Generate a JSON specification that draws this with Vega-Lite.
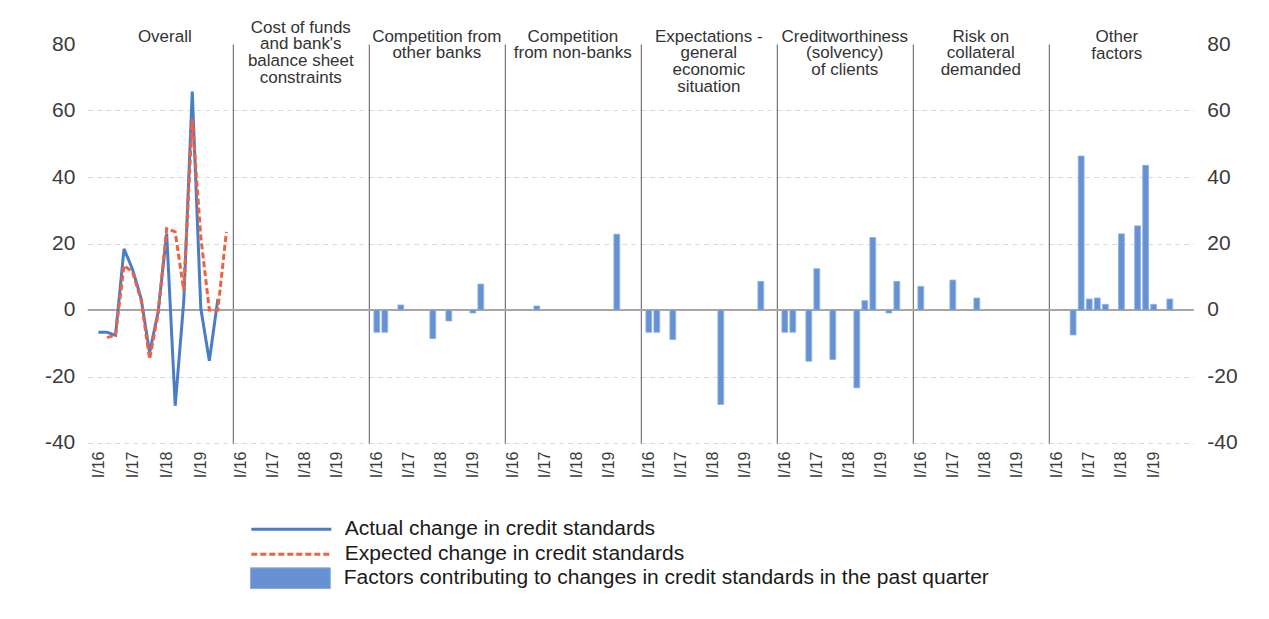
{
  "$schema": "https://vega.github.io/schema/vega-lite/v6.json",
  "background": "white",
  "padding": {"left": 43.8, "top": 18, "right": 5, "bottom": 5},
  "autosize": {"type": "pad"},
  "config": {
    "view": {"stroke": null},
    "font": "Liberation Sans",
    "title": {"fontSize": 17, "font": "Liberation Sans", "fontWeight": "normal", "color": "#333333", "anchor": "middle", "frame": "group", "baseline": "alphabetic", "lineHeight": 17},
    "axisX": {"labelFont": "Liberation Sans", "labelFontSize": 16, "labelAngle": 270, "labelPadding": 8, "labelColor": "#3b3b3b", "ticks": false, "domain": false, "grid": false, "title": null}
  },
  "datasets": {
    "zero": [{"level": 0}],
    "lines": [
      {"series": "Actual change in credit standards", "quarter": "I/16", "value": -6.7},
      {"series": "Actual change in credit standards", "quarter": "II/16", "value": -6.7},
      {"series": "Actual change in credit standards", "quarter": "III/16", "value": -7.6},
      {"series": "Actual change in credit standards", "quarter": "IV/16", "value": 18.4},
      {"series": "Actual change in credit standards", "quarter": "I/17", "value": 12.2},
      {"series": "Actual change in credit standards", "quarter": "II/17", "value": 3.5},
      {"series": "Actual change in credit standards", "quarter": "III/17", "value": -12.8},
      {"series": "Actual change in credit standards", "quarter": "IV/17", "value": -0.5},
      {"series": "Actual change in credit standards", "quarter": "I/18", "value": 23.0},
      {"series": "Actual change in credit standards", "quarter": "II/18", "value": -28.8},
      {"series": "Actual change in credit standards", "quarter": "III/18", "value": 2.5},
      {"series": "Actual change in credit standards", "quarter": "IV/18", "value": 65.7},
      {"series": "Actual change in credit standards", "quarter": "I/19", "value": 0.5},
      {"series": "Actual change in credit standards", "quarter": "II/19", "value": -15.3},
      {"series": "Actual change in credit standards", "quarter": "III/19", "value": 3.3},
      {"series": "Expected change in credit standards", "quarter": "II/16", "value": -8.3},
      {"series": "Expected change in credit standards", "quarter": "III/16", "value": -7.5},
      {"series": "Expected change in credit standards", "quarter": "IV/16", "value": 13.4},
      {"series": "Expected change in credit standards", "quarter": "I/17", "value": 11.4},
      {"series": "Expected change in credit standards", "quarter": "II/17", "value": 3.0},
      {"series": "Expected change in credit standards", "quarter": "III/17", "value": -14.8},
      {"series": "Expected change in credit standards", "quarter": "IV/17", "value": -1.0},
      {"series": "Expected change in credit standards", "quarter": "I/18", "value": 24.5},
      {"series": "Expected change in credit standards", "quarter": "II/18", "value": 23.5},
      {"series": "Expected change in credit standards", "quarter": "III/18", "value": 5.9},
      {"series": "Expected change in credit standards", "quarter": "IV/18", "value": 57.4},
      {"series": "Expected change in credit standards", "quarter": "I/19", "value": 22.0},
      {"series": "Expected change in credit standards", "quarter": "II/19", "value": 0.0},
      {"series": "Expected change in credit standards", "quarter": "III/19", "value": 0.0},
      {"series": "Expected change in credit standards", "quarter": "IV/19", "value": 23.5}
    ],
    "bars": [
      {"factor": "Competition from other banks", "quarter": "I/16", "value": -6.7},
      {"factor": "Competition from other banks", "quarter": "II/16", "value": -6.7},
      {"factor": "Competition from other banks", "quarter": "IV/16", "value": 1.5},
      {"factor": "Competition from other banks", "quarter": "IV/17", "value": -8.6},
      {"factor": "Competition from other banks", "quarter": "II/18", "value": -3.3},
      {"factor": "Competition from other banks", "quarter": "I/19", "value": -0.9},
      {"factor": "Competition from other banks", "quarter": "II/19", "value": 7.8},
      {"factor": "Competition from non-banks", "quarter": "IV/16", "value": 1.2},
      {"factor": "Competition from non-banks", "quarter": "II/19", "value": 22.8},
      {"factor": "Expectations - general economic situation", "quarter": "I/16", "value": -6.7},
      {"factor": "Expectations - general economic situation", "quarter": "II/16", "value": -6.7},
      {"factor": "Expectations - general economic situation", "quarter": "IV/16", "value": -8.9},
      {"factor": "Expectations - general economic situation", "quarter": "II/18", "value": -28.4},
      {"factor": "Expectations - general economic situation", "quarter": "III/19", "value": 8.6},
      {"factor": "Creditworthiness (solvency) of clients", "quarter": "I/16", "value": -6.7},
      {"factor": "Creditworthiness (solvency) of clients", "quarter": "II/16", "value": -6.7},
      {"factor": "Creditworthiness (solvency) of clients", "quarter": "IV/16", "value": -15.4},
      {"factor": "Creditworthiness (solvency) of clients", "quarter": "I/17", "value": 12.4},
      {"factor": "Creditworthiness (solvency) of clients", "quarter": "III/17", "value": -14.9},
      {"factor": "Creditworthiness (solvency) of clients", "quarter": "II/18", "value": -23.4},
      {"factor": "Creditworthiness (solvency) of clients", "quarter": "III/18", "value": 2.8},
      {"factor": "Creditworthiness (solvency) of clients", "quarter": "IV/18", "value": 21.8},
      {"factor": "Creditworthiness (solvency) of clients", "quarter": "II/19", "value": -0.9},
      {"factor": "Creditworthiness (solvency) of clients", "quarter": "III/19", "value": 8.6},
      {"factor": "Risk on collateral demanded", "quarter": "I/16", "value": 7.1},
      {"factor": "Risk on collateral demanded", "quarter": "I/17", "value": 9.0},
      {"factor": "Risk on collateral demanded", "quarter": "IV/17", "value": 3.6},
      {"factor": "Other factors", "quarter": "III/16", "value": -7.5},
      {"factor": "Other factors", "quarter": "IV/16", "value": 46.3},
      {"factor": "Other factors", "quarter": "I/17", "value": 3.3},
      {"factor": "Other factors", "quarter": "II/17", "value": 3.6},
      {"factor": "Other factors", "quarter": "III/17", "value": 1.7},
      {"factor": "Other factors", "quarter": "I/18", "value": 22.9},
      {"factor": "Other factors", "quarter": "III/18", "value": 25.3},
      {"factor": "Other factors", "quarter": "IV/18", "value": 43.5},
      {"factor": "Other factors", "quarter": "I/19", "value": 1.7},
      {"factor": "Other factors", "quarter": "III/19", "value": 3.3}
    ]
  },
  "hconcat": [
    {
      "width": 145, "height": 399,
      "title": {"text": "Overall", "offset": -13, "dx": 4.5},
      "layer": [
        {"data": {"name": "zero"}, "mark": {"type": "rule", "color": "#a6a6a6", "strokeWidth": 2},
         "encoding": {"y": {"field": "level", "type": "quantitative", "scale": {"domain": [-40, 80], "nice": false, "zero": false},
           "axis": {"orient": "left", "values": [-40, -20, 0, 20, 40, 60, 80], "labelExpr": "replace(datum.label, '−', '-')", "title": null, "domain": false, "ticks": false, "labelFontSize": 21, "labelFont": "Liberation Sans", "labelColor": "#3b3b3b", "labelPadding": 13, "grid": true, "gridColor": {"condition": {"test": "datum.value === 80 || datum.value === 0", "value": "rgba(0,0,0,0)"}, "value": "#d9d9d9"}, "gridDash": [5, 4], "gridWidth": 1}}}},
        {"data": {"name": "lines"},
         "mark": {"type": "line", "strokeWidth": 3},
         "encoding": {
           "x": {"field": "quarter", "type": "ordinal", "scale": {"type": "point", "domain": ["I/16","II/16","III/16","IV/16","I/17","II/17","III/17","IV/17","I/18","II/18","III/18","IV/18","I/19","II/19","III/19","IV/19"], "padding": 1.5625, "align": 0.624}, "axis": {"values": ["I/16", "I/17", "I/18", "I/19"]}},
           "y": {"field": "value", "type": "quantitative"},
           "color": {"field": "series", "type": "nominal",
             "scale": {"domain": ["Actual change in credit standards", "Expected change in credit standards"], "range": ["#4A7EC4", "#EE6241"]},
             "legend": {"orient": "none", "legendX": 162, "legendY": 474, "direction": "vertical", "title": null, "padding": 0,
               "symbolType": "stroke", "symbolSize": 6400, "symbolStrokeWidth": 3, "clipHeight": 22.5, "rowPadding": 2, "labelOffset": 12,
               "labelFontSize": 21, "labelFont": "Liberation Sans", "labelColor": "#1a1a1a", "labelLimit": 900}},
           "strokeDash": {"field": "series", "type": "nominal",
             "scale": {"domain": ["Actual change in credit standards", "Expected change in credit standards"], "range": [[1, 0], [6, 3]]},
             "legend": {"orient": "none", "legendX": 162, "legendY": 474, "direction": "vertical", "title": null, "padding": 0,
               "symbolType": "stroke", "symbolSize": 6400, "symbolStrokeWidth": 3, "clipHeight": 22.5, "rowPadding": 2, "labelOffset": 12,
               "labelFontSize": 21, "labelFont": "Liberation Sans", "labelColor": "#1a1a1a", "labelLimit": 900}}
         }}
      ]
    },
    {
      "width": 136, "height": 399,
      "title": {"text": ["Cost of funds", "and bank's", "balance sheet", "constraints"], "offset": -43.5},
      "layer": [
        {"data": {"name": "zero"}, "mark": {"type": "rule", "color": "#a6a6a6", "strokeWidth": 2},
         "encoding": {"y": {"field": "level", "type": "quantitative", "scale": {"domain": [-40, 80], "nice": false, "zero": false},
           "axis": {"orient": "left", "values": [-40, -20, 0, 20, 40, 60, 80], "title": null, "domain": true, "domainColor": "#595959", "domainWidth": 1, "ticks": false, "labels": false, "grid": true, "gridColor": {"condition": {"test": "datum.value === 80 || datum.value === 0", "value": "rgba(0,0,0,0)"}, "value": "#d9d9d9"}, "gridDash": [5, 4], "gridWidth": 1}}}},
        {"data": {"name": "bars"}, "transform": [{"filter": "datum.factor === \"Cost of funds and bank's balance sheet constraints\""}],
         "mark": {"type": "bar", "width": {"band": 0.72}, "stroke": "#8CAEDF", "strokeWidth": 0.8},
         "encoding": {
           "x": {"field": "quarter", "type": "ordinal", "scale": {"type": "band", "domain": ["I/16","II/16","III/16","IV/16","I/17","II/17","III/17","IV/17","I/18","II/18","III/18","IV/18","I/19","II/19","III/19","IV/19"], "paddingInner": 0, "paddingOuter": 0.5}, "axis": {"values": ["I/16", "I/17", "I/18", "I/19"]}},
           "y": {"field": "value", "type": "quantitative"},
           "fill": {"datum": "Factors contributing to changes in credit standards in the past quarter", "type": "nominal",
             "scale": {"domain": ["Factors contributing to changes in credit standards in the past quarter"], "range": ["#6692D3"]},
             "legend": {"orient": "none", "legendX": 162, "legendY": 523, "direction": "vertical", "title": null, "padding": 0,
               "symbolType": "M-1,-0.26H1V0.26H-1Z", "symbolSize": 6400, "symbolStrokeWidth": 1, "symbolStrokeColor": "#8CAEDF", "clipHeight": 22.5, "labelOffset": 13,
               "labelFontSize": 21, "labelFont": "Liberation Sans", "labelColor": "#1a1a1a", "labelLimit": 900}}
         }}
      ]
    },
    {
      "width": 136, "height": 399,
      "title": {"text": ["Competition from", "other banks"], "offset": -18.5},
      "layer": [
        {"data": {"name": "zero"}, "mark": {"type": "rule", "color": "#a6a6a6", "strokeWidth": 2},
         "encoding": {"y": {"field": "level", "type": "quantitative", "scale": {"domain": [-40, 80], "nice": false, "zero": false},
           "axis": {"orient": "left", "values": [-40, -20, 0, 20, 40, 60, 80], "title": null, "domain": true, "domainColor": "#595959", "domainWidth": 1, "ticks": false, "labels": false, "grid": true, "gridColor": {"condition": {"test": "datum.value === 80 || datum.value === 0", "value": "rgba(0,0,0,0)"}, "value": "#d9d9d9"}, "gridDash": [5, 4], "gridWidth": 1}}}},
        {"data": {"name": "bars"}, "transform": [{"filter": "datum.factor === 'Competition from other banks'"}],
         "mark": {"type": "bar", "width": {"band": 0.72}, "stroke": "#8CAEDF", "strokeWidth": 0.8},
         "encoding": {
           "x": {"field": "quarter", "type": "ordinal", "scale": {"type": "band", "domain": ["I/16","II/16","III/16","IV/16","I/17","II/17","III/17","IV/17","I/18","II/18","III/18","IV/18","I/19","II/19","III/19","IV/19"], "paddingInner": 0, "paddingOuter": 0.5}, "axis": {"values": ["I/16", "I/17", "I/18", "I/19"]}},
           "y": {"field": "value", "type": "quantitative"},
           "fill": {"datum": "Factors contributing to changes in credit standards in the past quarter", "type": "nominal",
             "scale": {"domain": ["Factors contributing to changes in credit standards in the past quarter"], "range": ["#6692D3"]},
             "legend": {"orient": "none", "legendX": 162, "legendY": 523, "direction": "vertical", "title": null, "padding": 0,
               "symbolType": "M-1,-0.26H1V0.26H-1Z", "symbolSize": 6400, "symbolStrokeWidth": 1, "symbolStrokeColor": "#8CAEDF", "clipHeight": 22.5, "labelOffset": 13,
               "labelFontSize": 21, "labelFont": "Liberation Sans", "labelColor": "#1a1a1a", "labelLimit": 900}}
         }}
      ]
    },
    {
      "width": 136, "height": 399,
      "title": {"text": ["Competition", "from non-banks"], "offset": -18.5},
      "layer": [
        {"data": {"name": "zero"}, "mark": {"type": "rule", "color": "#a6a6a6", "strokeWidth": 2},
         "encoding": {"y": {"field": "level", "type": "quantitative", "scale": {"domain": [-40, 80], "nice": false, "zero": false},
           "axis": {"orient": "left", "values": [-40, -20, 0, 20, 40, 60, 80], "title": null, "domain": true, "domainColor": "#595959", "domainWidth": 1, "ticks": false, "labels": false, "grid": true, "gridColor": {"condition": {"test": "datum.value === 80 || datum.value === 0", "value": "rgba(0,0,0,0)"}, "value": "#d9d9d9"}, "gridDash": [5, 4], "gridWidth": 1}}}},
        {"data": {"name": "bars"}, "transform": [{"filter": "datum.factor === 'Competition from non-banks'"}],
         "mark": {"type": "bar", "width": {"band": 0.72}, "stroke": "#8CAEDF", "strokeWidth": 0.8},
         "encoding": {
           "x": {"field": "quarter", "type": "ordinal", "scale": {"type": "band", "domain": ["I/16","II/16","III/16","IV/16","I/17","II/17","III/17","IV/17","I/18","II/18","III/18","IV/18","I/19","II/19","III/19","IV/19"], "paddingInner": 0, "paddingOuter": 0.5}, "axis": {"values": ["I/16", "I/17", "I/18", "I/19"]}},
           "y": {"field": "value", "type": "quantitative"},
           "fill": {"datum": "Factors contributing to changes in credit standards in the past quarter", "type": "nominal",
             "scale": {"domain": ["Factors contributing to changes in credit standards in the past quarter"], "range": ["#6692D3"]},
             "legend": {"orient": "none", "legendX": 162, "legendY": 523, "direction": "vertical", "title": null, "padding": 0,
               "symbolType": "M-1,-0.26H1V0.26H-1Z", "symbolSize": 6400, "symbolStrokeWidth": 1, "symbolStrokeColor": "#8CAEDF", "clipHeight": 22.5, "labelOffset": 13,
               "labelFontSize": 21, "labelFont": "Liberation Sans", "labelColor": "#1a1a1a", "labelLimit": 900}}
         }}
      ]
    },
    {
      "width": 136, "height": 399,
      "title": {"text": ["Expectations -", "general", "economic", "situation"], "offset": -52.5},
      "layer": [
        {"data": {"name": "zero"}, "mark": {"type": "rule", "color": "#a6a6a6", "strokeWidth": 2},
         "encoding": {"y": {"field": "level", "type": "quantitative", "scale": {"domain": [-40, 80], "nice": false, "zero": false},
           "axis": {"orient": "left", "values": [-40, -20, 0, 20, 40, 60, 80], "title": null, "domain": true, "domainColor": "#595959", "domainWidth": 1, "ticks": false, "labels": false, "grid": true, "gridColor": {"condition": {"test": "datum.value === 80 || datum.value === 0", "value": "rgba(0,0,0,0)"}, "value": "#d9d9d9"}, "gridDash": [5, 4], "gridWidth": 1}}}},
        {"data": {"name": "bars"}, "transform": [{"filter": "datum.factor === 'Expectations - general economic situation'"}],
         "mark": {"type": "bar", "width": {"band": 0.72}, "stroke": "#8CAEDF", "strokeWidth": 0.8},
         "encoding": {
           "x": {"field": "quarter", "type": "ordinal", "scale": {"type": "band", "domain": ["I/16","II/16","III/16","IV/16","I/17","II/17","III/17","IV/17","I/18","II/18","III/18","IV/18","I/19","II/19","III/19","IV/19"], "paddingInner": 0, "paddingOuter": 0.5}, "axis": {"values": ["I/16", "I/17", "I/18", "I/19"]}},
           "y": {"field": "value", "type": "quantitative"},
           "fill": {"datum": "Factors contributing to changes in credit standards in the past quarter", "type": "nominal",
             "scale": {"domain": ["Factors contributing to changes in credit standards in the past quarter"], "range": ["#6692D3"]},
             "legend": {"orient": "none", "legendX": 162, "legendY": 523, "direction": "vertical", "title": null, "padding": 0,
               "symbolType": "M-1,-0.26H1V0.26H-1Z", "symbolSize": 6400, "symbolStrokeWidth": 1, "symbolStrokeColor": "#8CAEDF", "clipHeight": 22.5, "labelOffset": 13,
               "labelFontSize": 21, "labelFont": "Liberation Sans", "labelColor": "#1a1a1a", "labelLimit": 900}}
         }}
      ]
    },
    {
      "width": 136, "height": 399,
      "title": {"text": ["Creditworthiness", "(solvency)", "of clients"], "offset": -35.5},
      "layer": [
        {"data": {"name": "zero"}, "mark": {"type": "rule", "color": "#a6a6a6", "strokeWidth": 2},
         "encoding": {"y": {"field": "level", "type": "quantitative", "scale": {"domain": [-40, 80], "nice": false, "zero": false},
           "axis": {"orient": "left", "values": [-40, -20, 0, 20, 40, 60, 80], "title": null, "domain": true, "domainColor": "#595959", "domainWidth": 1, "ticks": false, "labels": false, "grid": true, "gridColor": {"condition": {"test": "datum.value === 80 || datum.value === 0", "value": "rgba(0,0,0,0)"}, "value": "#d9d9d9"}, "gridDash": [5, 4], "gridWidth": 1}}}},
        {"data": {"name": "bars"}, "transform": [{"filter": "datum.factor === 'Creditworthiness (solvency) of clients'"}],
         "mark": {"type": "bar", "width": {"band": 0.72}, "stroke": "#8CAEDF", "strokeWidth": 0.8},
         "encoding": {
           "x": {"field": "quarter", "type": "ordinal", "scale": {"type": "band", "domain": ["I/16","II/16","III/16","IV/16","I/17","II/17","III/17","IV/17","I/18","II/18","III/18","IV/18","I/19","II/19","III/19","IV/19"], "paddingInner": 0, "paddingOuter": 0.5}, "axis": {"values": ["I/16", "I/17", "I/18", "I/19"]}},
           "y": {"field": "value", "type": "quantitative"},
           "fill": {"datum": "Factors contributing to changes in credit standards in the past quarter", "type": "nominal",
             "scale": {"domain": ["Factors contributing to changes in credit standards in the past quarter"], "range": ["#6692D3"]},
             "legend": {"orient": "none", "legendX": 162, "legendY": 523, "direction": "vertical", "title": null, "padding": 0,
               "symbolType": "M-1,-0.26H1V0.26H-1Z", "symbolSize": 6400, "symbolStrokeWidth": 1, "symbolStrokeColor": "#8CAEDF", "clipHeight": 22.5, "labelOffset": 13,
               "labelFontSize": 21, "labelFont": "Liberation Sans", "labelColor": "#1a1a1a", "labelLimit": 900}}
         }}
      ]
    },
    {
      "width": 136, "height": 399,
      "title": {"text": ["Risk on", "collateral", "demanded"], "offset": -35.5},
      "layer": [
        {"data": {"name": "zero"}, "mark": {"type": "rule", "color": "#a6a6a6", "strokeWidth": 2},
         "encoding": {"y": {"field": "level", "type": "quantitative", "scale": {"domain": [-40, 80], "nice": false, "zero": false},
           "axis": {"orient": "left", "values": [-40, -20, 0, 20, 40, 60, 80], "title": null, "domain": true, "domainColor": "#595959", "domainWidth": 1, "ticks": false, "labels": false, "grid": true, "gridColor": {"condition": {"test": "datum.value === 80 || datum.value === 0", "value": "rgba(0,0,0,0)"}, "value": "#d9d9d9"}, "gridDash": [5, 4], "gridWidth": 1}}}},
        {"data": {"name": "bars"}, "transform": [{"filter": "datum.factor === 'Risk on collateral demanded'"}],
         "mark": {"type": "bar", "width": {"band": 0.72}, "stroke": "#8CAEDF", "strokeWidth": 0.8},
         "encoding": {
           "x": {"field": "quarter", "type": "ordinal", "scale": {"type": "band", "domain": ["I/16","II/16","III/16","IV/16","I/17","II/17","III/17","IV/17","I/18","II/18","III/18","IV/18","I/19","II/19","III/19","IV/19"], "paddingInner": 0, "paddingOuter": 0.5}, "axis": {"values": ["I/16", "I/17", "I/18", "I/19"]}},
           "y": {"field": "value", "type": "quantitative"},
           "fill": {"datum": "Factors contributing to changes in credit standards in the past quarter", "type": "nominal",
             "scale": {"domain": ["Factors contributing to changes in credit standards in the past quarter"], "range": ["#6692D3"]},
             "legend": {"orient": "none", "legendX": 162, "legendY": 523, "direction": "vertical", "title": null, "padding": 0,
               "symbolType": "M-1,-0.26H1V0.26H-1Z", "symbolSize": 6400, "symbolStrokeWidth": 1, "symbolStrokeColor": "#8CAEDF", "clipHeight": 22.5, "labelOffset": 13,
               "labelFontSize": 21, "labelFont": "Liberation Sans", "labelColor": "#1a1a1a", "labelLimit": 900}}
         }}
      ]
    },
    {
      "width": 145, "height": 399,
      "title": {"text": ["Other", "factors"], "offset": -30, "dx": -4.5},
      "resolve": {"axis": {"y": "independent"}},
      "layer": [
        {"data": {"name": "zero"}, "mark": {"type": "rule", "color": "#a6a6a6", "strokeWidth": 2},
         "encoding": {"y": {"field": "level", "type": "quantitative", "scale": {"domain": [-40, 80], "nice": false, "zero": false},
           "axis": {"orient": "right", "values": [-40, -20, 0, 20, 40, 60, 80], "labelExpr": "replace(datum.label, '−', '-')", "title": null, "domain": false, "ticks": false, "grid": false, "labelFontSize": 21, "labelFont": "Liberation Sans", "labelColor": "#3b3b3b", "labelPadding": 13}}}},
        {"data": {"name": "bars"}, "transform": [{"filter": "datum.factor === 'Other factors'"}],
         "mark": {"type": "bar", "width": {"band": 0.72}, "stroke": "#8CAEDF", "strokeWidth": 0.8},
         "encoding": {
           "x": {"field": "quarter", "type": "ordinal", "scale": {"type": "band", "domain": ["I/16","II/16","III/16","IV/16","I/17","II/17","III/17","IV/17","I/18","II/18","III/18","IV/18","I/19","II/19","III/19","IV/19"], "paddingInner": 0, "paddingOuter": 1.0625, "align": 0.26}, "axis": {"values": ["I/16", "I/17", "I/18", "I/19"]}},
           "y": {"field": "value", "type": "quantitative",
             "axis": {"orient": "left", "values": [-40, -20, 0, 20, 40, 60, 80], "title": null, "domain": true, "domainColor": "#595959", "domainWidth": 1, "ticks": false, "labels": false, "grid": true, "gridColor": {"condition": {"test": "datum.value === 80 || datum.value === 0", "value": "rgba(0,0,0,0)"}, "value": "#d9d9d9"}, "gridDash": [5, 4], "gridWidth": 1}},
           "fill": {"datum": "Factors contributing to changes in credit standards in the past quarter", "type": "nominal",
             "scale": {"domain": ["Factors contributing to changes in credit standards in the past quarter"], "range": ["#6692D3"]},
             "legend": {"orient": "none", "legendX": 162, "legendY": 523, "direction": "vertical", "title": null, "padding": 0,
               "symbolType": "M-1,-0.26H1V0.26H-1Z", "symbolSize": 6400, "symbolStrokeWidth": 1, "symbolStrokeColor": "#8CAEDF", "clipHeight": 22.5, "labelOffset": 13,
               "labelFontSize": 21, "labelFont": "Liberation Sans", "labelColor": "#1a1a1a", "labelLimit": 900}}
         }}
      ]
    }
  ],
  "spacing": 0,
  "bounds": "flush"
}
